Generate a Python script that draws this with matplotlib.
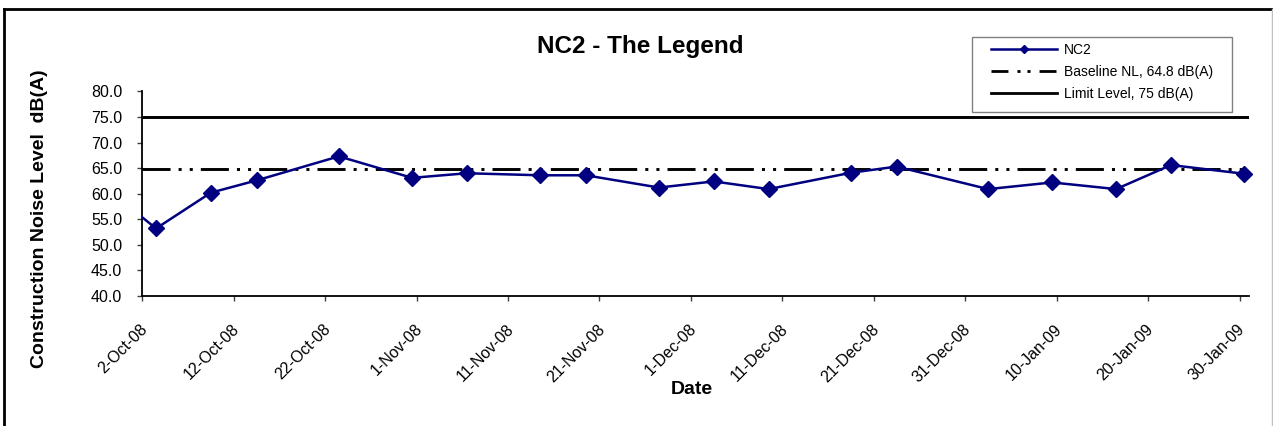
import pandas as pd
import matplotlib
matplotlib.use('Agg')
import matplotlib.pyplot as plt
import matplotlib.dates as mdates
from matplotlib.ticker import FormatStrFormatter, FuncFormatter
from matplotlib.transforms import ScaledTranslation
from matplotlib.lines import Line2D
from matplotlib.patches import Rectangle

plt.rcParams['font.family'] = ['Liberation Sans', 'DejaVu Sans']

# Dados (NC2)
dates = ['2008-10-01', '2008-10-03', '2008-10-09', '2008-10-14', '2008-10-23',
         '2008-10-31', '2008-11-06', '2008-11-14', '2008-11-19', '2008-11-27',
         '2008-12-03', '2008-12-09', '2008-12-18', '2008-12-23', '2009-01-02',
         '2009-01-09', '2009-01-16', '2009-01-22', '2009-01-30']
nc2_values = [56.1, 53.2, 60.2, 62.6, 67.3,
              63.1, 64.0, 63.6, 63.6, 61.2,
              62.4, 60.9, 64.1, 65.3, 60.9,
              62.2, 60.9, 65.6, 63.9]
baseline_level = 64.8
limit_level = 75
labels = ['NC2', 'Baseline NL, 64.8 dB(A)', 'Limit Level, 75 dB(A)']
x_start = '2008-10-02'
x_end = '2009-01-31'
tick_dates = pd.date_range('2008-10-02', '2009-01-30', freq='10D')

navy = '#000080'
W, H = 1273, 426


def fx(px):
    return px / W


def fy(py):
    return 1 - py / H


fig = plt.figure(figsize=(W / 100, H / 100), dpi=100)
ax = fig.add_axes([fx(142.3), fy(296), fx(1248.7) - fx(142.3), fy(91.4) - fy(296)])

# pontos no centro do dia (eixo de datas estilo Excel)
x = mdates.date2num(pd.to_datetime(dates)) + 0.5
x0 = mdates.date2num(pd.Timestamp(x_start))
x1 = mdates.date2num(pd.Timestamp(x_end))

ax.plot(x, nc2_values, color=navy, lw=1.8, zorder=4)
inside = x >= x0
ax.plot(x[inside], [v for v, k in zip(nc2_values, inside) if k], ls='none', marker='D',
        ms=8, color=navy, clip_on=False, zorder=5)

lw_base = 2.1
ax.axhline(baseline_level, color='black', lw=lw_base, zorder=3,
           dashes=[20.2 / lw_base, 5.8 / lw_base, 2.2 / lw_base, 5.8 / lw_base,
                   2.2 / lw_base, 5.8 / lw_base])
ax.axhline(limit_level, color='black', lw=2.1, zorder=3)

ax.set_xlim(x0, x1)
ax.set_ylim(40, 80)
ax.set_yticks([40, 45, 50, 55, 60, 65, 70, 75, 80])
ax.yaxis.set_major_formatter(FormatStrFormatter('%.1f'))
ax.set_xticks(mdates.date2num(tick_dates))
ax.xaxis.set_major_formatter(FuncFormatter(
    lambda v, p: '{}-{}'.format(mdates.num2date(v).day, mdates.num2date(v).strftime('%b-%y'))))

for s in ['top', 'right']:
    ax.spines[s].set_visible(False)
for s in ['left', 'bottom']:
    ax.spines[s].set_linewidth(1.3)

ax.tick_params(axis='y', direction='out', length=3.6, width=1, color='#404040',
               pad=11.0, labelsize=11.5)
ax.tick_params(axis='x', direction='out', length=3.6, width=1, color='#404040',
               pad=18.5, labelsize=11.5)
for lab in ax.get_xticklabels():
    lab.set_rotation(45)
    lab.set_ha('right')
    lab.set_va('center')
    lab.set_rotation_mode('anchor')
    lab.set_transform(lab.get_transform() + ScaledTranslation(3 / 100, 0, fig.dpi_scale_trans))

# titulos
fig.text(fx(640), fy(47), 'NC2 - The Legend', ha='center', va='center',
         fontsize=17.5, fontweight='bold')
fig.text(fx(40), fy(219), 'Construction Noise Level  dB(A)', ha='center', va='center',
         rotation=90, fontsize=14, fontweight='bold')
fig.text(fx(691.5), fy(390), 'Date', ha='center', va='center',
         fontsize=14, fontweight='bold')

# legenda
handles = [
    Line2D([], [], color=navy, lw=1.8, marker='D', ms=4.5),
    Line2D([], [], color='black', lw=2.0,
           dashes=[12.2 / 2.0, 6.5 / 2.0, 2.2 / 2.0, 5.0 / 2.0, 2.2 / 2.0, 6.5 / 2.0]),
    Line2D([], [], color='black', lw=2.0),
]
fig.legend(handles, labels, loc='upper left', bbox_to_anchor=(fx(991), fy(42.5)),
           frameon=False, borderpad=0, borderaxespad=0, handlelength=4.75,
           handletextpad=0.5, labelspacing=0.6, fontsize=10)
fig.add_artist(Rectangle((fx(972), fy(112)), fx(1232) - fx(972), fy(36.7) - fy(112),
                         transform=fig.transFigure, fill=False, edgecolor='#808080', lw=1))

# moldura
fig.add_artist(Line2D([fx(4), fx(1271.5)], [fy(8.5), fy(8.5)], transform=fig.transFigure,
                      color='black', lw=2))
fig.add_artist(Line2D([fx(4), fx(4)], [fy(8.5), fy(430)], transform=fig.transFigure,
                      color='black', lw=2))
fig.add_artist(Line2D([fx(1271.5), fx(1271.5)], [fy(8.5), fy(430)], transform=fig.transFigure,
                      color='#c0c0c0', lw=1))

plt.savefig('out.png', dpi=100)
